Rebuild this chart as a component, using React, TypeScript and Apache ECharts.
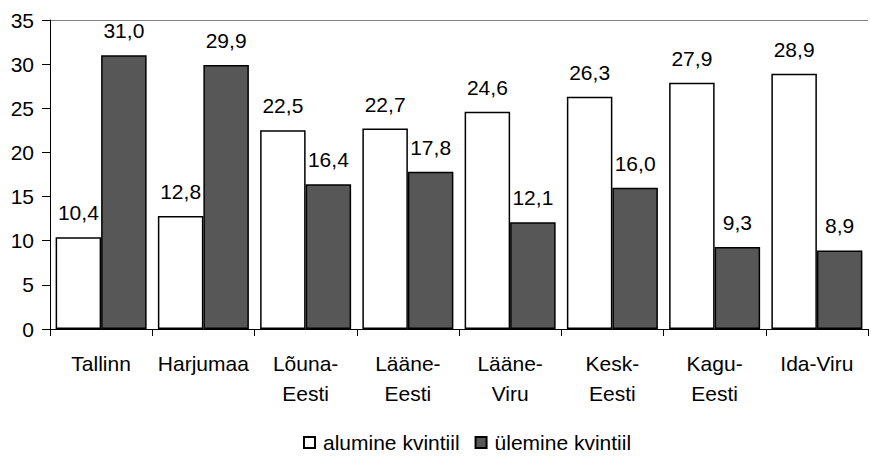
import React, { useEffect, useRef } from "react";
import * as echarts from "echarts";

const categories = ["Tallinn", "Harjumaa", "Lõuna-\nEesti", "Lääne-\nEesti", "Lääne-\nViru", "Kesk-\nEesti", "Kagu-\nEesti", "Ida-Viru"];
const lowerQuintile = [10.4, 12.8, 22.5, 22.7, 24.6, 26.3, 27.9, 28.9];
const upperQuintile = [31.0, 29.9, 16.4, 17.8, 12.1, 16.0, 9.3, 8.9];
const seriesNames = ["alumine kvintiil", "ülemine kvintiil"];

const FONT = "Liberation Sans";
const FS = 21;

export default function App() {
  const ref = useRef<HTMLDivElement>(null);
  useEffect(() => {
    if (!ref.current) return;
    const chart = echarts.init(ref.current, undefined, { renderer: "svg" });
    const fmt = (p: any) => Number(p.value).toFixed(1).replace(".", ",");
    const label = {
      show: true,
      position: "top",
      distance: 14,
      formatter: fmt,
      color: "#000",
      fontFamily: FONT,
      fontSize: FS,
    };
    chart.setOption({
      animation: false,
      backgroundColor: "#fff",
      textStyle: { fontFamily: FONT },
      grid: { left: 50, right: 3, top: 20, bottom: 128, containLabel: false },
      legend: {
        left: 303,
        top: 432,
        padding: 0,
        itemWidth: 11,
        itemHeight: 11,
        itemGap: 15,
        icon: "rect",
        textStyle: { fontFamily: FONT, fontSize: FS, color: "#000", padding: [0, 0, 0, 3] },
        data: seriesNames,
      },
      xAxis: {
        type: "category",
        data: categories,
        axisLine: { lineStyle: { color: "#000", width: 1 } },
        axisTick: { show: true, length: 7, lineStyle: { color: "#000" } },
        axisLabel: { interval: 0, color: "#000", fontFamily: FONT, fontSize: FS, margin: 19, lineHeight: 30 },
      },
      yAxis: {
        type: "value",
        min: 0,
        max: 35,
        interval: 5,
        axisLine: { show: true, lineStyle: { color: "#000", width: 1 } },
        axisTick: { show: true, length: 8, lineStyle: { color: "#000" } },
        axisLabel: { color: "#000", fontFamily: FONT, fontSize: FS, margin: 16 },
        splitLine: {
          show: true,
          lineStyle: {
            color: ["transparent", "transparent", "transparent", "transparent", "transparent", "transparent", "transparent", "#808080"],
            width: 1,
          },
        },
      },
      series: [
        {
          name: seriesNames[0],
          type: "bar",
          data: lowerQuintile,
          barGap: "0%",
          barCategoryGap: "11%",
          itemStyle: { color: "#fff", borderColor: "#000", borderWidth: 1.5 },
          label,
        },
        {
          name: seriesNames[1],
          type: "bar",
          data: upperQuintile,
          itemStyle: { color: "#575757", borderColor: "#000", borderWidth: 1.5 },
          label,
        },
      ],
    });
    return () => chart.dispose();
  }, []);
  return <div ref={ref} style={{ width: 871, height: 457, position: "absolute", left: 0, top: 0 }} />;
}
